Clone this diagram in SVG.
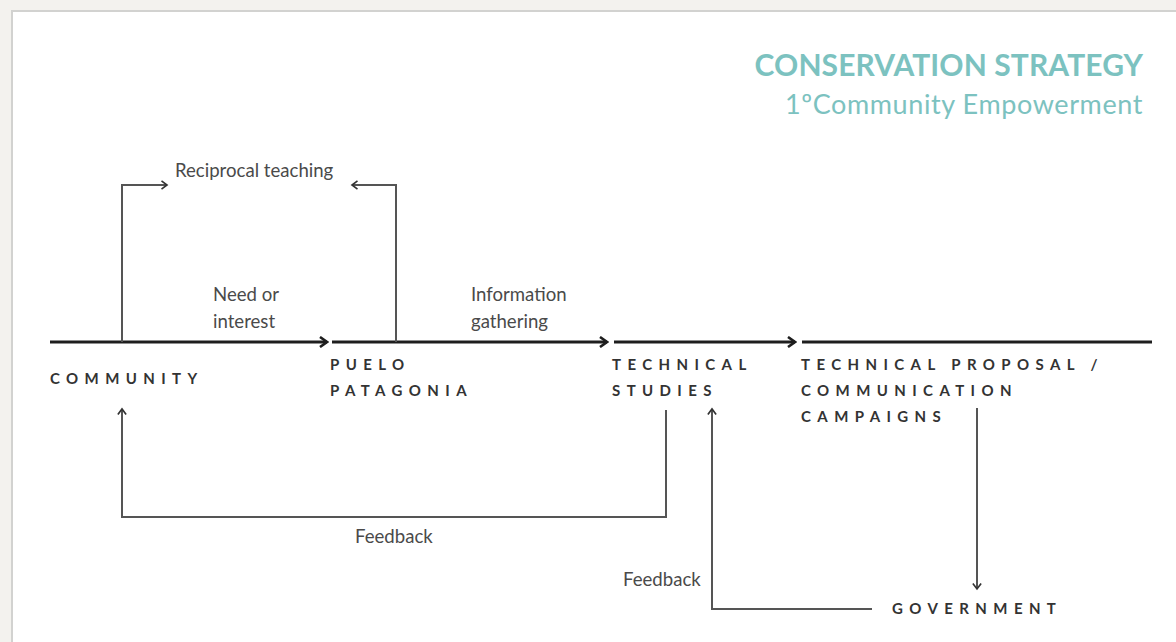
<svg xmlns="http://www.w3.org/2000/svg" width="1176" height="642" viewBox="0 0 1176 642">
<defs>
<style>
.lbl{font-family:Lato,"Open Sans",sans-serif;font-size:18.6px;fill:#4a4a4a}
.node{font-family:Lato,"Open Sans",sans-serif;font-size:15px;font-weight:bold;fill:#333;letter-spacing:6.4px}
.main{stroke:#1e1e1e;stroke-width:3;fill:none}
.thin{stroke:#555;stroke-width:2;fill:none}
.title{font-family:Lato,"Open Sans",sans-serif;fill:#7cc2c0}
</style>
<marker id="ah" viewBox="0 0 12 12" refX="10" refY="6" markerWidth="12" markerHeight="12" markerUnits="userSpaceOnUse" orient="auto">
<path d="M3,1 L10,6 L3,11" fill="none" stroke="#1e1e1e" stroke-width="2.6"/>
</marker>
<marker id="ah2" viewBox="0 0 12 12" refX="10" refY="6" markerWidth="11" markerHeight="11" markerUnits="userSpaceOnUse" orient="auto">
<path d="M4,1.5 L10,6 L4,10.5" fill="none" stroke="#333" stroke-width="1.8"/>
</marker>
</defs>
<rect x="0" y="0" width="1176" height="642" fill="#f3f2ee"/>
<rect x="12" y="11" width="1180" height="650" fill="#ffffff" stroke="#d2d2d0" stroke-width="2"/>
<g id="title">
<text class="title" x="1143" y="76" text-anchor="end" font-size="30" font-weight="bold" letter-spacing="0.1">CONSERVATION STRATEGY</text>
<text class="title" x="1143" y="114" text-anchor="end" font-size="27" letter-spacing="0.6">1ºCommunity Empowerment</text>
</g>
<g id="connectors">
<line class="main" x1="50" y1="342" x2="327" y2="342" marker-end="url(#ah)"/>
<line class="main" x1="332" y1="342" x2="607" y2="342" marker-end="url(#ah)"/>
<line class="main" x1="614" y1="342" x2="795" y2="342" marker-end="url(#ah)"/>
<line class="main" x1="802" y1="342" x2="1152" y2="342"/>
<polyline class="thin" points="122,342 122,185 167,185" marker-end="url(#ah2)"/>
<polyline class="thin" points="396,342 396,185 352,185" marker-end="url(#ah2)"/>
<polyline class="thin" points="666,410 666,517 122,517 122,409" marker-end="url(#ah2)"/>
<polyline class="thin" points="872,609 712,609 712,409" marker-end="url(#ah2)"/>
<line class="thin" x1="977" y1="408" x2="977" y2="589" marker-end="url(#ah2)"/>
<text class="lbl" x="175" y="177">Reciprocal teaching</text>
<text class="lbl" x="213" y="301">Need or</text>
<text class="lbl" x="213" y="328">interest</text>
<text class="lbl" x="471" y="301">Information</text>
<text class="lbl" x="471" y="328">gathering</text>
<text class="lbl" x="355" y="543">Feedback</text>
<text class="lbl" x="623" y="586">Feedback</text>
</g>
<g id="community"><text class="node" x="50" y="384">COMMUNITY</text></g>
<g id="puelo"><text class="node" x="330" y="370">PUELO</text><text class="node" x="330" y="396">PATAGONIA</text></g>
<g id="technical-studies"><text class="node" x="612" y="370">TECHNICAL</text><text class="node" x="612" y="396">STUDIES</text></g>
<g id="proposal"><text class="node" x="801" y="370">TECHNICAL PROPOSAL /</text><text class="node" x="801" y="396">COMMUNICATION</text><text class="node" x="801" y="422">CAMPAIGNS</text></g>
<g id="government"><text class="node" x="892" y="614">GOVERNMENT</text></g>
</svg>
